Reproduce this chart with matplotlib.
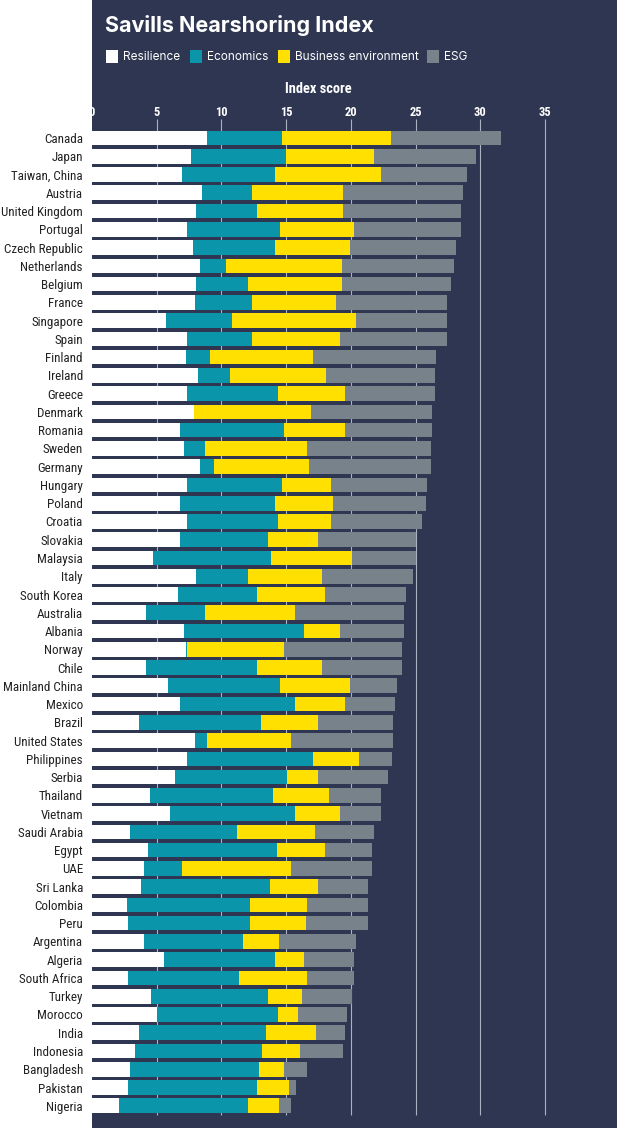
import matplotlib
matplotlib.use("Agg")
import matplotlib.pyplot as plt
from matplotlib import font_manager as fm
from matplotlib.patches import Rectangle

W, H = 617, 1128
NAVY = "#2e3652"
TEAL = "#0a95ab"
YELLOW = "#ffe000"
GREY = "#77828a"
GRID = "#aab2c2"
SANS = ["Inter", "DejaVu Sans"]

# pick a narrow face if one is installed, else Roboto (fairly narrow)
_names = {f.name for f in fm.fontManager.ttflist}
NARROW, NARROW_SIZE = ["Roboto", "DejaVu Sans"], 8.6
for cand in ["Liberation Sans Narrow", "Roboto Condensed", "DejaVu Sans Condensed",
             "Open Sans Condensed"]:
    if cand in _names:
        NARROW, NARROW_SIZE = [cand, "DejaVu Sans"], 9.4
        break

countries = ["Canada", "Japan", "Taiwan, China", "Austria", "United Kingdom", "Portugal",
             "Czech Republic", "Netherlands", "Belgium", "France", "Singapore", "Spain",
             "Finland", "Ireland", "Greece", "Denmark", "Romania", "Sweden", "Germany",
             "Hungary", "Poland", "Croatia", "Slovakia", "Malaysia", "Italy", "South Korea",
             "Australia", "Albania", "Norway", "Chile", "Mainland China", "Mexico", "Brazil",
             "United States", "Philippines", "Serbia", "Thailand", "Vietnam", "Saudi Arabia",
             "Egypt", "UAE", "Sri Lanka", "Colombia", "Peru", "Argentina", "Algeria",
             "South Africa", "Turkey", "Morocco", "India", "Indonesia", "Bangladesh",
             "Pakistan", "Nigeria"]

resilience = [8.87, 7.63, 6.96, 8.48, 8.05, 7.38, 7.78, 8.33, 8.05, 7.93, 5.71, 7.38,
              7.23, 8.20, 7.38, 7.90, 6.81, 7.11, 8.36, 7.38, 6.81, 7.38, 6.81, 4.74,
              8.05, 6.68, 4.19, 7.11, 7.23, 4.19, 5.86, 6.81, 3.65, 7.93, 7.38, 6.41,
              4.47, 5.99, 2.95, 4.31, 4.04, 3.77, 2.67, 2.80, 4.04, 5.56, 2.80, 4.59,
              5.01, 3.62, 3.34, 2.92, 2.80, 2.10]
economics = [5.81, 7.35, 7.17, 3.86, 4.68, 7.17, 6.35, 2.03, 3.98, 4.41, 5.11, 4.96,
             1.92, 2.47, 7.02, 0.00, 8.02, 1.61, 1.06, 7.30, 7.32, 7.02, 6.77, 9.12,
             3.98, 6.05, 4.53, 9.27, 0.09, 8.54, 8.69, 8.87, 9.39, 0.94, 9.67, 8.69,
             9.54, 9.69, 8.29, 9.97, 2.92, 9.96, 9.51, 9.38, 7.63, 8.57, 8.56, 8.99,
             9.39, 9.81, 9.82, 9.96, 9.93, 9.93]
business = [8.44, 6.78, 8.17, 7.08, 6.69, 5.69, 5.80, 8.93, 7.26, 6.50, 9.57, 6.80,
            7.90, 7.38, 5.14, 8.99, 4.71, 7.90, 7.35, 3.79, 4.47, 4.07, 3.86, 6.26,
            5.72, 5.29, 6.96, 2.76, 7.51, 5.02, 5.38, 3.86, 4.40, 6.54, 3.58, 2.34,
            4.28, 3.46, 5.99, 3.74, 8.45, 3.71, 4.44, 4.32, 2.76, 2.25, 5.26, 2.65,
            1.55, 3.89, 2.91, 1.95, 2.49, 2.40]
esg = [8.48, 7.90, 6.66, 9.26, 9.11, 8.29, 8.21, 8.70, 8.42, 8.63, 7.08, 8.33,
       9.57, 8.42, 6.93, 9.42, 6.77, 9.57, 9.42, 7.45, 7.20, 7.02, 7.63, 4.95,
       7.08, 6.23, 8.45, 4.99, 9.14, 6.22, 3.65, 3.89, 5.84, 7.87, 2.52, 5.44,
       4.01, 3.16, 4.53, 3.61, 6.22, 3.92, 4.74, 4.86, 5.96, 3.86, 3.62, 3.89,
       3.74, 2.25, 3.35, 1.82, 0.58, 0.98]

series = [("Resilience", resilience, "white"),
          ("Economics", economics, TEAL),
          ("Business environment", business, YELLOW),
          ("ESG", esg, GREY)]
ticks = [0, 5, 10, 15, 20, 25, 30, 35]

# pixel layout of the reference
x0_px, unit_px = 92, 12.94          # axis 0 and px per index point
row0_px, row_px = 138, 18.26        # first row centre, row spacing

fig = plt.figure(figsize=(W / 100, H / 100), dpi=100, facecolor="white")
ax = fig.add_axes([x0_px / W, 0, (W - x0_px) / W, 1])
ax.set_facecolor(NAVY)
for s in ax.spines.values():
    s.set_visible(False)
ax.set_xlim(0, (W - x0_px) / unit_px)
ax.set_ylim((H - row0_px) / row_px, -row0_px / row_px)


def py(px):
    return (px - row0_px) / row_px


# grid lines
ax.vlines(ticks[1:], py(119), py(1115), color=GRID, lw=0.8, zorder=1)

# stacked bars
rows = list(range(len(countries)))
left = [0.0] * len(countries)
for name, vals, col in series:
    ax.barh(rows, vals, left=left, height=0.8, color=col, lw=0, zorder=2)
    left = [a + b for a, b in zip(left, vals)]

# country labels
ax.set_xticks([])
ax.set_yticks(rows)
ax.set_yticklabels(countries, family=NARROW, fontsize=NARROW_SIZE, color="#222222")
ax.tick_params(axis="y", length=0, pad=6.5)

# top tick labels
for t in ticks:
    ax.text(t, py(113), str(t), ha="center", va="center", color="white",
            fontsize=9, fontweight="bold", family=NARROW, clip_on=False)
ax.text(17.5, py(89), "Index score", ha="center", va="center", color="white",
        fontsize=10.4, fontweight="bold", family=NARROW)


def fx(px):
    return px / W


def fy(px):
    return 1 - px / H


# title
fig.text(fx(105), fy(25), "Savills Nearshoring Index", ha="left", va="center",
         color="white", fontsize=15.5, fontweight="bold", family=SANS)

# legend
leg_x = [106, 190, 278, 427]
for (name, vals, col), lx in zip(series, leg_x):
    fig.patches.append(Rectangle((fx(lx), fy(63)), 12 / W, 13 / H, transform=fig.transFigure,
                                 facecolor=col, edgecolor="none"))
    fig.text(fx(lx + 17), fy(57), name, ha="left", va="center", color="white",
             fontsize=8.5, family=SANS)

fig.savefig("out.png", dpi=100, facecolor="white")
